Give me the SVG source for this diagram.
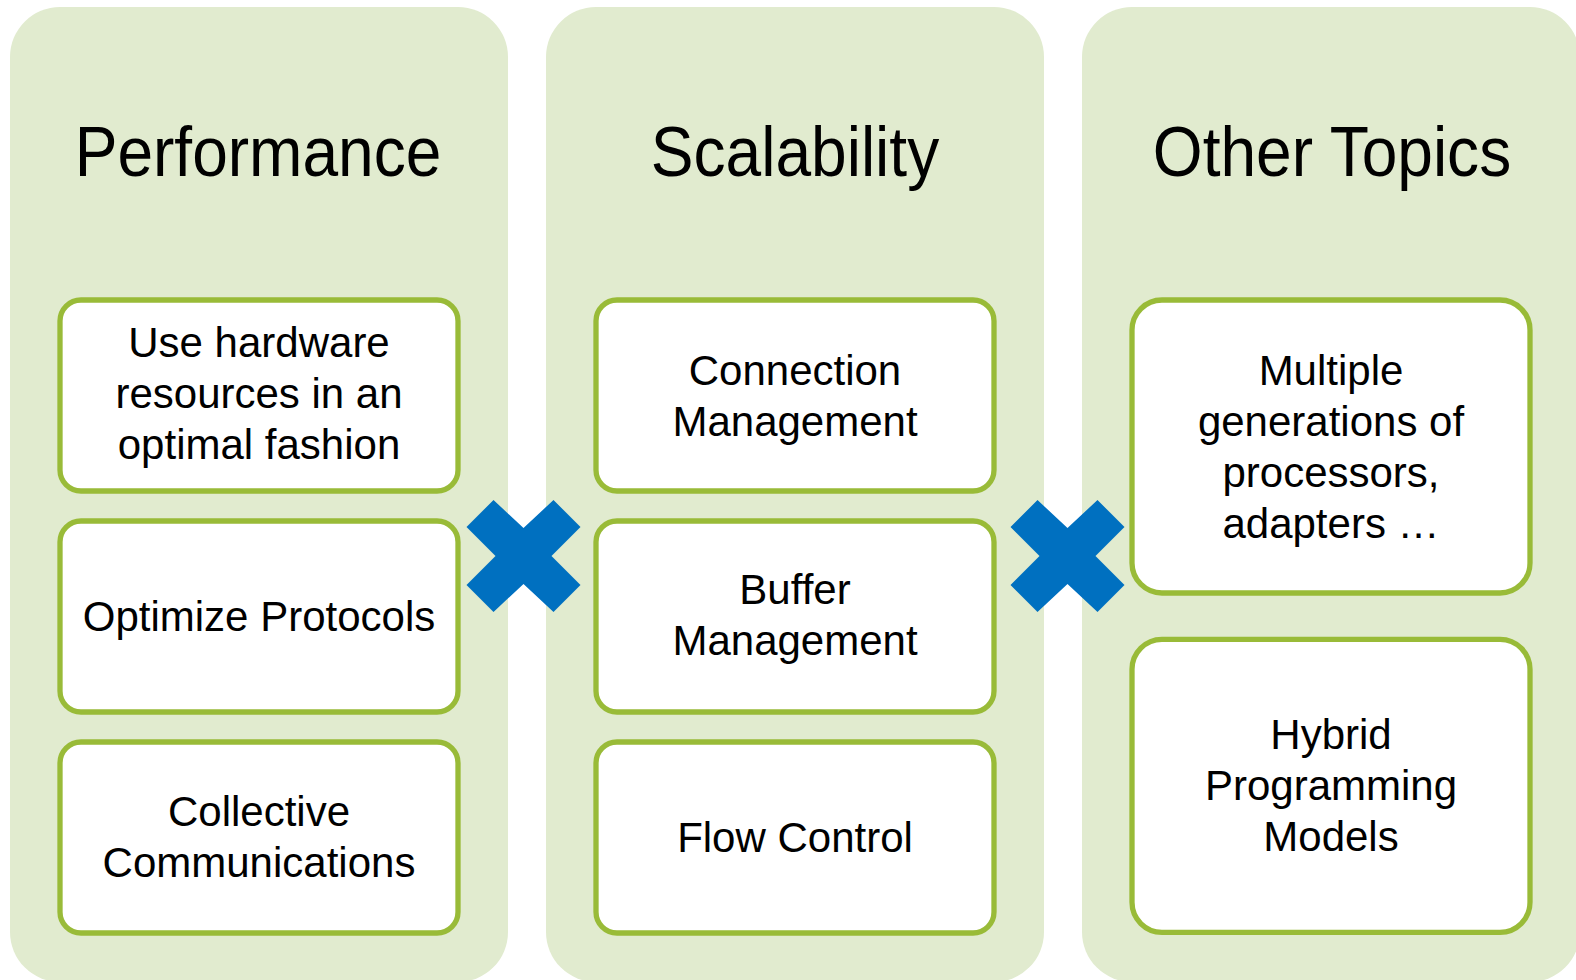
<svg xmlns="http://www.w3.org/2000/svg" width="1576" height="980" viewBox="0 0 1576 980">
<style>
  .panel { fill: #E1EBCF; }
  .box { fill: #FFFFFF; stroke: #99BB38; stroke-width: 5.3; }
  .title { font-family: "Liberation Sans", Arial, sans-serif; font-size: 70px; fill: #000; text-anchor: middle; }
  .lbl { font-family: "Liberation Sans", Arial, sans-serif; font-size: 42px; fill: #000; text-anchor: middle; }
  .cross { fill: #0070C0; }
</style>
<defs>
  <polygon id="xshape" points="0,-28 30,-56 57,-29 28,0 57,29 30,56 0,28 -30,56 -57,29 -28,0 -57,-29 -30,-56"/>
</defs>
<rect width="1576" height="980" fill="#FFFFFF"/>

<g id="panel-performance">
  <rect class="panel" x="10" y="7" width="498" height="975" rx="50"/>
  <text class="title" transform="translate(258,176) scale(0.915,1)">Performance</text>
</g>
<g id="panel-scalability">
  <rect class="panel" x="546" y="7" width="498" height="975" rx="50"/>
  <text class="title" transform="translate(795,176) scale(0.915,1)">Scalability</text>
</g>
<g id="panel-other">
  <rect class="panel" x="1082" y="7" width="498" height="975" rx="50"/>
  <text class="title" transform="translate(1332,176) scale(0.915,1)">Other Topics</text>
</g>

<g id="node-hardware">
  <rect class="box" x="60" y="300" width="398" height="191" rx="21"/>
  <text class="lbl" x="259" y="357">Use hardware</text>
  <text class="lbl" x="259" y="408">resources in an</text>
  <text class="lbl" x="259" y="459">optimal fashion</text>
</g>
<g id="node-protocols">
  <rect class="box" x="60" y="521" width="398" height="191" rx="21"/>
  <text class="lbl" x="259" y="631">Optimize Protocols</text>
</g>
<g id="node-collective">
  <rect class="box" x="60" y="742" width="398" height="191" rx="21"/>
  <text class="lbl" x="259" y="826">Collective</text>
  <text class="lbl" x="259" y="877">Communications</text>
</g>

<g id="node-connection">
  <rect class="box" x="596" y="300" width="398" height="191" rx="21"/>
  <text class="lbl" x="795" y="385">Connection</text>
  <text class="lbl" x="795" y="436">Management</text>
</g>
<g id="node-buffer">
  <rect class="box" x="596" y="521" width="398" height="191" rx="21"/>
  <text class="lbl" x="795" y="604">Buffer</text>
  <text class="lbl" x="795" y="655">Management</text>
</g>
<g id="node-flow">
  <rect class="box" x="596" y="742" width="398" height="191" rx="21"/>
  <text class="lbl" x="795" y="852">Flow Control</text>
</g>

<g id="node-multiple">
  <rect class="box" x="1132" y="300" width="398" height="293" rx="30"/>
  <text class="lbl" x="1331" y="385">Multiple</text>
  <text class="lbl" x="1331" y="436">generations of</text>
  <text class="lbl" x="1331" y="487">processors,</text>
  <text class="lbl" x="1331" y="538">adapters …</text>
</g>
<g id="node-hybrid">
  <rect class="box" x="1132" y="639.3" width="398" height="293" rx="30"/>
  <text class="lbl" x="1331" y="749">Hybrid</text>
  <text class="lbl" x="1331" y="800">Programming</text>
  <text class="lbl" x="1331" y="851">Models</text>
</g>

<g id="connectors">
  <use href="#xshape" class="cross" transform="translate(523.5,556)"/>
  <use href="#xshape" class="cross" transform="translate(1067.5,556)"/>
</g>
</svg>
